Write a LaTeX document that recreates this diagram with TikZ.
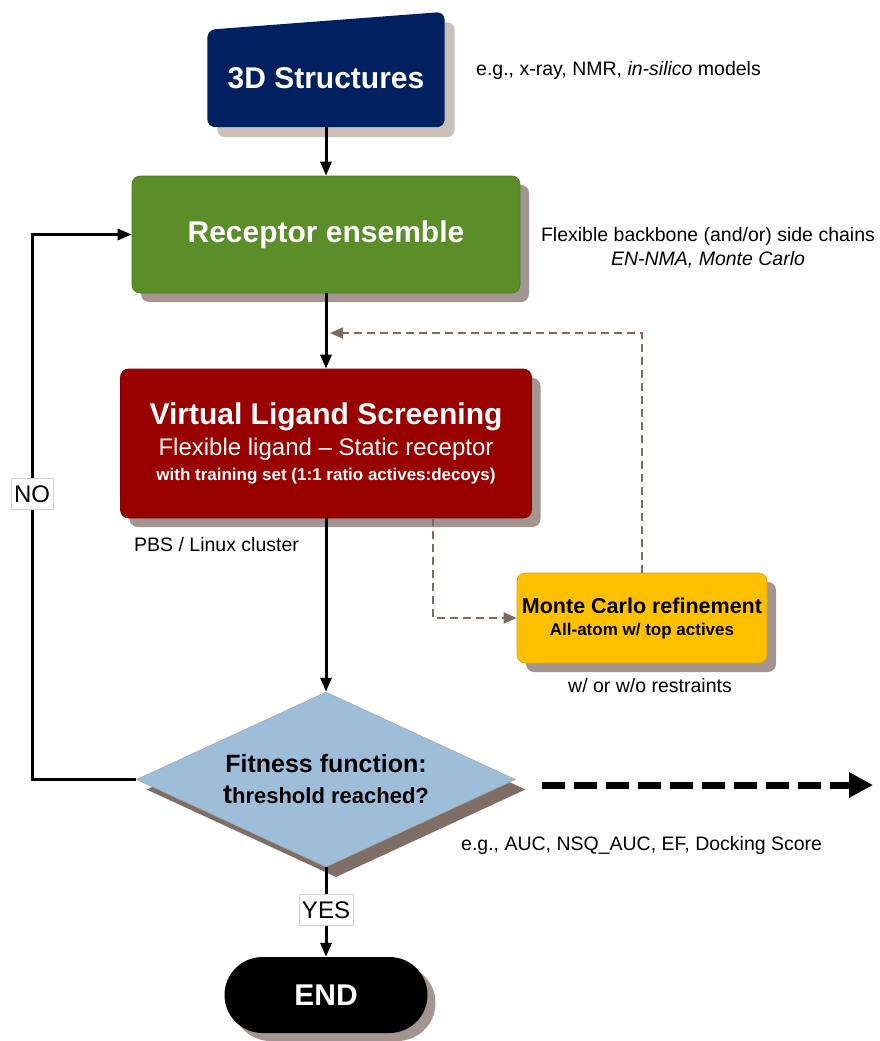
\documentclass[tikz,border=0pt]{standalone}
\usepackage{fontspec}
\setmainfont{Liberation Sans}
\usetikzlibrary{shapes.geometric,shapes.misc,arrows.meta,shadows}
\definecolor{navybox}{HTML}{002060}
\definecolor{greenbox}{HTML}{5B8E28}
\definecolor{redbox}{HTML}{990000}
\definecolor{goldbox}{HTML}{FFC000}
\definecolor{bluebox}{HTML}{9DBDD9}
\definecolor{brownline}{HTML}{7F6A60}
\definecolor{shadowgray}{HTML}{A39692}
\definecolor{shadowlight}{HTML}{CBBFBA}
\definecolor{shadowdark}{HTML}{7F6E66}

\begin{document}
\begin{tikzpicture}[x=1pt,y=-1pt,
    box/.style={rectangle, rounded corners=8pt, inner sep=0pt, align=center, text=white,
        fill=#1, draw=#1!85!black, line width=0.6pt,
        drop shadow={shadow xshift=9pt, shadow yshift=-9pt, fill=shadowgray, opacity=1}},
    flow/.style={line width=3pt, -{Triangle[length=14pt,width=11pt]}},
    refine/.style={draw=brownline, line width=1.8pt, dash pattern=on 8pt off 5pt,
        -{Triangle[length=13pt,width=11pt]}},
    lab/.style={fill=white, draw=gray!35, line width=0.4pt, inner xsep=3pt, inner ysep=7pt,
        font=\fontsize{24}{24}\selectfont},
    note/.style={inner sep=0pt, font=\fontsize{19.5}{24}\selectfont}]
\useasboundingbox (0,0) rectangle (879,1041);

% 3D Structures (bord du haut incline)
\node[minimum width=237pt, minimum height=97pt, inner sep=0pt] (struct) at (326,78.5) {};
\fill[navybox, rounded corners=8pt,
      drop shadow={shadow xshift=10pt, shadow yshift=-10pt, fill=shadowlight, opacity=1}]
    (struct.south west) -- (struct.north west) -- ([yshift=18pt]struct.north east)
    -- (struct.south east) -- cycle;
\node[text=white, font=\fontsize{30}{30}\selectfont\bfseries] (structtxt) at (struct) {3D Structures};
\node (note3d) at (476,70) [note, right] {e.g., x-ray, NMR, \textit{in-silico} models};

\node[box=greenbox, minimum width=388pt, minimum height=117pt,
      font=\fontsize{30}{30}\selectfont\bfseries] (recep) at (326,234.5) {Receptor ensemble};
\node (noterec) at (708,248) [note, align=center] {Flexible backbone (and/or) side chains\\ \textit{EN-NMA, Monte Carlo}};

\node[box=redbox, minimum width=411pt, minimum height=149pt,
      font=\fontsize{24}{25}\selectfont] (vls) at (326,443.5)
    {{\fontsize{30}{30}\selectfont\bfseries Virtual Ligand Screening}\\[6pt]
     Flexible ligand -- Static receptor\\
     {\fontsize{17}{17}\selectfont\bfseries with training set (1:1 ratio actives:decoys)}};
\node (notepbs) at (134,545) [note, right] {PBS / Linux cluster};

\node[box=goldbox, text=black, minimum width=250pt, minimum height=90pt,
      font=\fontsize{17}{22}\selectfont\bfseries] (mc) at (642,618)
    {{\fontsize{21.5}{22}\selectfont Monte Carlo refinement}\\ All-atom w/ top actives};
\node (notemc) at (650,686) [note] {w/ or w/o restraints};

\node[diamond, aspect=2.17, minimum width=379pt, minimum height=175pt, inner sep=0pt,
      fill=bluebox, draw=gray!70, line width=0.5pt, align=center,
      font=\fontsize{22}{31}\selectfont\bfseries,
      drop shadow={shadow xshift=10pt, shadow yshift=-10pt, fill=shadowdark, opacity=1}]
    (fitness) at (326,779.5)
    {{\fontsize{25}{25}\selectfont Fitness function:}\\ {\fontsize{27}{27}\selectfont t}hreshold reached?};
\node (notefit) at (461,845) [note, right] {e.g., AUC, NSQ\_AUC, EF, Docking Score};

\node[rounded rectangle, fill=black, text=white, minimum width=203pt, minimum height=76pt,
      inner sep=0pt, font=\fontsize{30}{30}\selectfont\bfseries,
      drop shadow={shadow xshift=8pt, shadow yshift=-8pt, fill=shadowgray, opacity=1}]
    (endn) at (326,995) {END};

% liaisons
\node[lab] (yeslab) at (326,910) {YES};
\node[lab] (nolab) at (32,494) {NO};
\draw[flow] (struct) -- (recep);
\draw[flow] (recep) -- (vls);
\draw[flow] (vls) -- (fitness);
\draw[flow] (fitness) -- (yeslab) -- (endn);
\draw[flow] (fitness.west) -| (nolab) |- (recep.west);%boucle NO

\coordinate (backin) at (330,333);
\draw[refine] ([xshift=107pt]vls.south) |- (mc.west);
\draw[refine] (mc.north) |- (backin);

\coordinate (outA) at (542,785);
\coordinate (outB) at (873,785);
\draw[line width=7pt, dash pattern=on 23pt off 9pt, -{Triangle[length=24pt,width=24pt]}] (outA) -- (outB);
\end{tikzpicture}
\end{document}
